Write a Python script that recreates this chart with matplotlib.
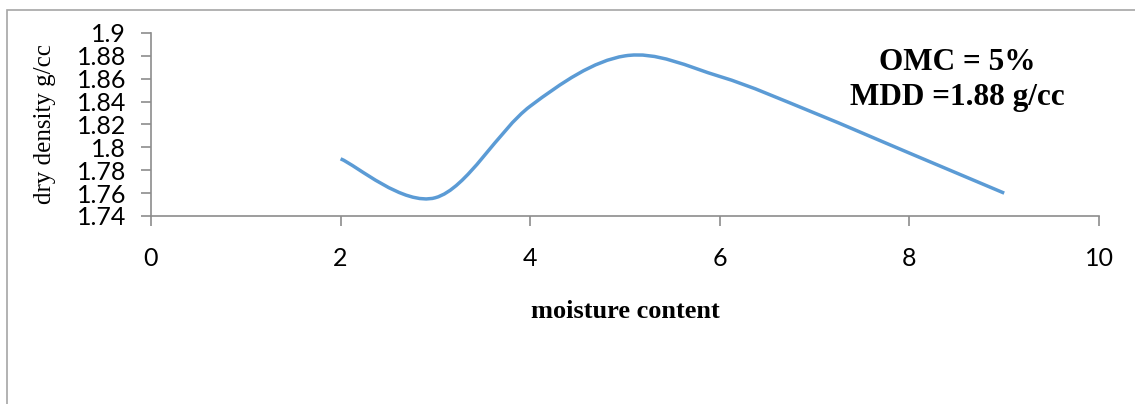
import numpy as np
import matplotlib
matplotlib.use("Agg")
import matplotlib.pyplot as plt
from matplotlib.path import Path
from matplotlib.patches import PathPatch, Rectangle
from matplotlib.ticker import FormatStrFormatter

# data
moisture = [2, 3, 4, 5, 6, 7, 8, 9]
dry_density = [1.79, 1.756, 1.836, 1.88, 1.862, 1.83, 1.795, 1.76]
x_ticks = [0, 2, 4, 6, 8, 10]
y_ticks = [1.74, 1.76, 1.78, 1.8, 1.82, 1.84, 1.86, 1.88, 1.9]

grey = "#8c8c8c"
blue = "#5b9bd5"
tick_font = ["Lato", "DejaVu Sans"]
serif_font = ["Liberation Serif", "DejaVu Serif"]


def smooth_path(xs, ys):
    # excel style smoothed line: cubic bezier through the points
    pts = np.column_stack([xs, ys]).astype(float)
    n = len(pts)
    verts = [pts[0]]
    codes = [Path.MOVETO]
    for i in range(n - 1):
        p_prev = pts[i - 1] if i > 0 else pts[i]
        p_next2 = pts[i + 2] if i + 2 < n else pts[i + 1]
        c1 = pts[i] + (pts[i + 1] - p_prev) / 6
        c2 = pts[i + 1] - (p_next2 - pts[i]) / 6
        verts += [c1, c2, pts[i + 1]]
        codes += [Path.CURVE4] * 3
    return Path(verts, codes)


fig = plt.figure(figsize=(11.35, 4.04), dpi=100)

# outer chart frame
fig.patches.append(Rectangle((7 / 1135, -0.1), 1.2, 1.1 - 10 / 404,
                             transform=fig.transFigure, fill=False,
                             edgecolor="#a6a6a6", linewidth=1.2))

ax = fig.add_axes([151 / 1135, 188 / 404, (1099 - 151) / 1135, (216 - 33) / 404])

ax.add_patch(PathPatch(smooth_path(moisture, dry_density), fill=False,
                       edgecolor=blue, linewidth=2.5, capstyle="butt"))

ax.set_xlim(0, 10)
ax.set_ylim(1.74, 1.9)
ax.set_xticks(x_ticks)
ax.set_yticks(y_ticks)
ax.yaxis.set_major_formatter(FormatStrFormatter("%g"))

for side in ["top", "right"]:
    ax.spines[side].set_visible(False)
for side in ["left", "bottom"]:
    ax.spines[side].set_color(grey)
    ax.spines[side].set_linewidth(1.2)

ax.tick_params(axis="both", direction="out", length=7, width=1.2, color=grey,
               labelsize=18, labelcolor="black")
ax.tick_params(axis="x", pad=15)
ax.tick_params(axis="y", pad=11)
for lbl in ax.get_xticklabels() + ax.get_yticklabels():
    lbl.set_family(tick_font)

ax.set_xlabel("moisture content", family=serif_font, fontweight="bold",
              fontsize=19, labelpad=22)
ax.set_ylabel("dry density g/cc", family=serif_font, fontsize=18)
ax.yaxis.set_label_coords(-0.100, 0.5)

ax.text(957 / 1135, 1 - 63 / 404, "OMC = 5%", transform=fig.transFigure,
        family=serif_font, fontweight="bold", fontsize=22.5,
        ha="center", va="center")
ax.text(957 / 1135, 1 - 97 / 404, "MDD =1.88 g/cc", transform=fig.transFigure,
        family=serif_font, fontweight="bold", fontsize=22.5,
        ha="center", va="center")

fig.savefig("out.png", dpi=100)
